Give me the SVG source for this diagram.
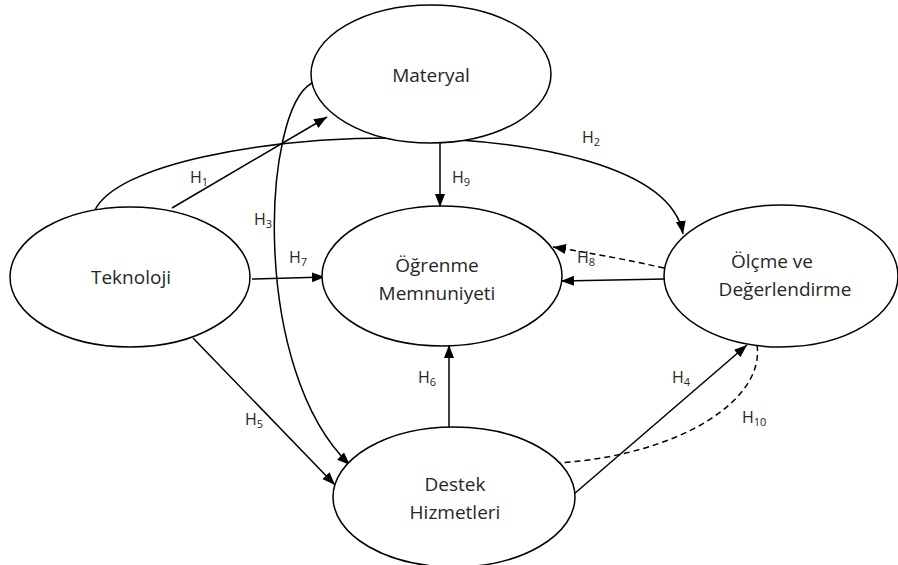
<svg xmlns="http://www.w3.org/2000/svg" width="898" height="565" viewBox="0 0 898 565">
<style>
.node ellipse{fill:#fff;stroke:#000;stroke-width:1.5}
.lbl{font-family:"Open Sans","Liberation Sans",sans-serif;font-size:19px;fill:#262626;text-anchor:middle}
.h{font-family:"Open Sans","Liberation Sans",sans-serif;font-size:16px;fill:#262626}
.h tspan.s{font-size:11px}
.edges path{fill:none;stroke:#000;stroke-width:1.5}
.edges path.d{stroke-dasharray:6 4}
</style>
<defs>
<marker id="ah" markerUnits="userSpaceOnUse" markerWidth="14" markerHeight="12" refX="13" refY="5" orient="auto">
<path d="M0,0 L13,5 L0,10 Z" fill="#000"/>
</marker>
</defs>
<g class="edges" id="connectors">
<path d="M95,210 C140,120 660,100 683,234" marker-end="url(#ah)"/>
<path d="M312,83 C262,110 250,370 350,465" marker-end="url(#ah)"/>
<path d="M172,208 L327,117" marker-end="url(#ah)"/>
<path d="M193,338 L335,485" marker-end="url(#ah)"/>
<path d="M252,279 L325,277" marker-end="url(#ah)"/>
<path d="M440,143 L440,207" marker-end="url(#ah)"/>
<path d="M449,431 L449,345" marker-end="url(#ah)"/>
<path d="M574,494 L747,345" marker-end="url(#ah)"/>
<path d="M665,279 L561,281" marker-end="url(#ah)"/>
<path class="d" d="M664,268 Q610,256 553,247" marker-end="url(#ah)"/>
<path class="d" d="M757,345 C765,400 680,455 558,463"/>
</g>
<g class="node" id="materyal"><ellipse cx="431" cy="74" rx="120" ry="69"/><text class="lbl" x="431" y="82">Materyal</text></g>
<g class="node" id="teknoloji"><ellipse cx="130" cy="277" rx="120" ry="70"/><text class="lbl" x="131" y="284">Teknoloji</text></g>
<g class="node" id="ogrenme"><ellipse cx="442" cy="276" rx="120" ry="70"/><text class="lbl" x="437" y="272">Öğrenme</text><text class="lbl" x="437" y="300">Memnuniyeti</text></g>
<g class="node" id="olcme"><ellipse cx="781" cy="276" rx="117" ry="71"/><text class="lbl" x="772" y="268">Ölçme ve</text><text class="lbl" x="785" y="296">Değerlendirme</text></g>
<g class="node" id="destek"><ellipse cx="454" cy="497" rx="121" ry="70"/><text class="lbl" x="455" y="491">Destek</text><text class="lbl" x="455" y="519">Hizmetleri</text></g>
<g id="labels">
<text class="h" x="190" y="183">H<tspan class="s" dy="3">1</tspan></text>
<text class="h" x="582" y="143">H<tspan class="s" dy="3">2</tspan></text>
<text class="h" x="254" y="225">H<tspan class="s" dy="3">3</tspan></text>
<text class="h" x="672" y="383">H<tspan class="s" dy="3">4</tspan></text>
<text class="h" x="245" y="425">H<tspan class="s" dy="3">5</tspan></text>
<text class="h" x="418" y="383">H<tspan class="s" dy="3">6</tspan></text>
<text class="h" x="289" y="263">H<tspan class="s" dy="3">7</tspan></text>
<text class="h" x="577" y="263">H<tspan class="s" dy="3">8</tspan></text>
<text class="h" x="452" y="183">H<tspan class="s" dy="3">9</tspan></text>
<text class="h" x="742" y="423">H<tspan class="s" dy="3">10</tspan></text>
</g>
</svg>
